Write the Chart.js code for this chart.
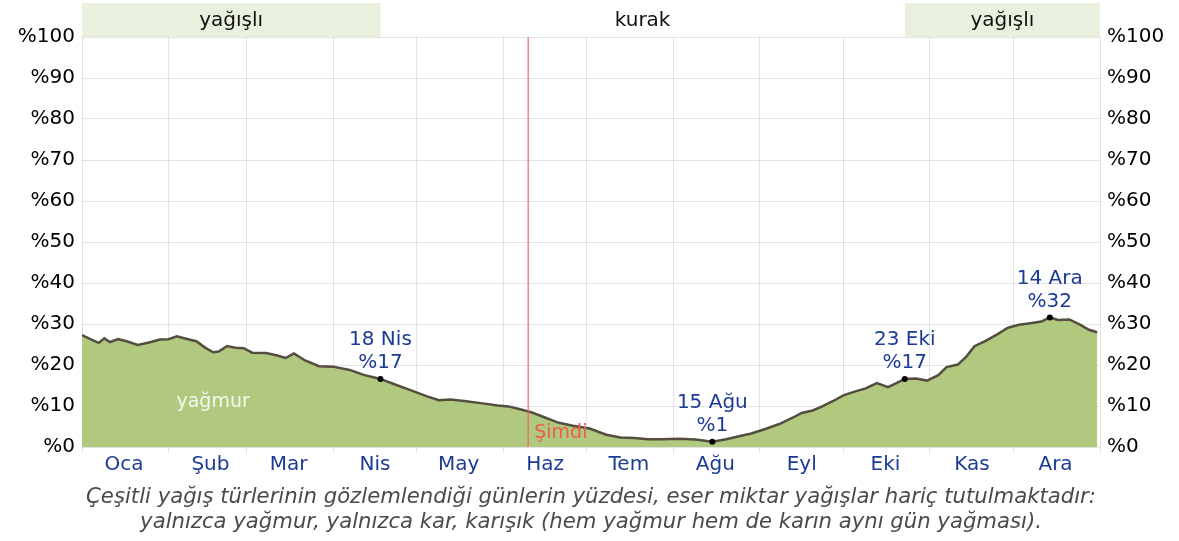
<!DOCTYPE html>
<html>
<head>
<meta charset="utf-8">
<script src="https://cdn.jsdelivr.net/npm/chart.js@4/dist/chart.umd.min.js"></script>
<style>
  html, body { margin: 0; padding: 0; background: #fff; }
  #wrap { width: 1179px; height: 541px; }
</style>
</head>
<body>
<div id="wrap"><canvas id="rainChart" width="1179" height="541"></canvas></div>
<script>
// month names and first day (day of year, 0-based) of each month
const monthNames = ['Oca', 'Şub', 'Mar', 'Nis', 'May', 'Haz', 'Tem', 'Ağu', 'Eyl', 'Eki', 'Kas', 'Ara'];
const monthStarts = [0, 31, 59, 90, 120, 151, 181, 212, 243, 273, 304, 334, 365];

// percentage of days with rain
const rainDays = [0, 3, 6, 8, 10, 13, 16, 20, 24, 28, 31, 34, 38, 41, 44, 47, 49, 52, 55, 58,
  61, 66, 70, 73, 76, 80, 85, 90, 96, 101, 107, 112, 118, 124, 128, 132, 137, 143, 149, 153,
  157, 161, 166, 171, 176, 182, 188, 193, 198, 203, 208, 214, 220, 226, 231, 236, 240, 245,
  250, 255, 258, 262, 265, 269, 273, 277, 281, 285, 289, 292, 295, 299, 303, 307, 310, 314,
  317, 320, 324, 328, 332, 336, 340, 344, 347, 350, 354, 358, 361, 364];
const rainValues = [27.3, 26.3, 25.4, 26.5, 25.6, 26.3, 25.8, 24.9, 25.5, 26.2, 26.3, 27.0, 26.3, 25.8, 24.3, 23.1, 23.3, 24.6, 24.2, 24.1,
  23.0, 22.9, 22.3, 21.7, 22.8, 21.1, 19.7, 19.6, 18.8, 17.6, 16.6, 15.3, 13.8, 12.3, 11.4, 11.6, 11.2, 10.7, 10.1, 9.9,
  9.2, 8.5, 7.2, 5.9, 5.2, 4.5, 3.0, 2.3, 2.2, 1.9, 1.9, 2.0, 1.8, 1.3, 1.9, 2.7, 3.3, 4.4,
  5.6, 7.2, 8.3, 8.9, 9.8, 11.1, 12.6, 13.5, 14.3, 15.6, 14.6, 15.6, 16.6, 16.7, 16.2, 17.5, 19.5, 20.1,
  22.0, 24.6, 25.9, 27.4, 29.1, 29.8, 30.2, 30.6, 31.6, 31.0, 31.1, 29.8, 28.6, 28.0];

// snow, barely above zero
const snowDays = [0, 10, 30, 55, 70, 300, 330, 345, 364];
const snowValues = [0.1, 0.3, 0.4, 0.3, 0.1, 0, 0.2, 0.3, 0.2];

// highlighted points
const markDays = [107, 226, 295, 347];
const markLabels = [['18 Nis', '%17'], ['15 Ağu', '%1'], ['23 Eki', '%17'], ['14 Ara', '%32']];

// wet / dry season bands on top
const seasonFrom = [0, 107, 295];
const seasonTo = [107, 295, 365];
const seasonLabels = ['yağışlı', 'kurak', 'yağışlı'];
const seasonWet = [true, false, true];

const nowDay = 160;

const yTicks = [0, 10, 20, 30, 40, 50, 60, 70, 80, 90, 100];

const captionLines = [
  'Çeşitli yağış türlerinin gözlemlendiği günlerin yüzdesi, eser miktar yağışlar hariç tutulmaktadır:',
  'yalnızca yağmur, yalnızca kar, karışık (hem yağmur hem de karın aynı gün yağması).'
];

const FONT = "'DejaVu Sans', sans-serif";
const BLUE = '#1c3b96';
const GRID = 'rgba(0,0,0,0.11)';

const extras = {
  id: 'extras',
  beforeDraw(chart) {
    const { ctx, scales: { x }, chartArea } = chart;
    ctx.save();
    ctx.font = '20px ' + FONT;
    ctx.textAlign = 'center';
    ctx.textBaseline = 'middle';
    for (let i = 0; i < seasonLabels.length; i++) {
      const x0 = x.getPixelForValue(seasonFrom[i]);
      const x1 = x.getPixelForValue(seasonTo[i]);
      if (seasonWet[i]) {
        ctx.fillStyle = '#e9f0de';
        ctx.fillRect(x0, 3, x1 - x0, chartArea.top - 3);
      }
      ctx.fillStyle = '#111';
      ctx.fillText(seasonLabels[i], (x0 + x1) / 2, 21);
    }
    ctx.restore();
  },
  afterDraw(chart) {
    const { ctx, scales: { x, y }, chartArea } = chart;
    ctx.save();

    // now line
    const nx = x.getPixelForValue(nowDay);
    ctx.strokeStyle = 'rgba(238,95,95,0.75)';
    ctx.lineWidth = 1.5;
    ctx.beginPath();
    ctx.moveTo(nx, chartArea.top);
    ctx.lineTo(nx, chartArea.bottom);
    ctx.stroke();
    ctx.fillStyle = '#e8604c';
    ctx.font = '19px ' + FONT;
    ctx.textAlign = 'left';
    ctx.textBaseline = 'alphabetic';
    ctx.fillText('Şimdi', nx + 6, 438);

    // series label inside the area
    ctx.fillStyle = 'rgba(255,255,255,0.85)';
    ctx.textAlign = 'center';
    ctx.textBaseline = 'middle';
    ctx.fillText('yağmur', x.getPixelForValue(47), y.getPixelForValue(11));

    // point annotations
    ctx.font = '20px ' + FONT;
    ctx.fillStyle = BLUE;
    markDays.forEach((d, i) => {
      const v = rainValues[rainDays.indexOf(d)];
      const px = x.getPixelForValue(d);
      const py = y.getPixelForValue(v);
      ctx.fillText(markLabels[i][0], px, py - 39);
      ctx.fillText(markLabels[i][1], px, py - 16);
      ctx.beginPath();
      ctx.arc(px, py, 3, 0, Math.PI * 2);
      ctx.fillStyle = '#000';
      ctx.fill();
      ctx.fillStyle = BLUE;
    });

    // caption
    ctx.fillStyle = '#4a4a4a';
    let size = 17;
    ctx.font = 'oblique ' + size + 'px ' + FONT;
    const w = ctx.measureText(captionLines[0]).width;
    size = size * 1010 / w;
    ctx.font = 'oblique ' + size.toFixed(2) + 'px ' + FONT;
    const cx = (chartArea.left + chartArea.right) / 2;
    ctx.fillText(captionLines[0], cx, 497);
    ctx.fillText(captionLines[1], cx, 522);
    ctx.restore();
  }
};

const yAxis = (pos, width, showGrid) => ({
  type: 'linear',
  position: pos,
  min: 0,
  max: 100,
  z: 1,
  afterBuildTicks: s => { s.ticks = yTicks.map(v => ({ value: v })); },
  afterFit: s => { s.width = width; },
  border: { display: false },
  grid: { display: showGrid, color: GRID, drawTicks: false },
  ticks: {
    padding: 7,
    color: '#000',
    font: { family: FONT, size: 20 },
    callback: v => '%' + v
  }
});

new Chart(document.getElementById('rainChart').getContext('2d'), {
  type: 'line',
  data: {
    datasets: [{
      label: 'yağmur',
      data: rainDays.map((d, i) => ({ x: d, y: rainValues[i] })),
      fill: 'origin',
      backgroundColor: '#b0c97f',
      borderColor: '#544d40',
      borderWidth: 2.5,
      pointRadius: 0,
      tension: 0
    }, {
      label: 'kar',
      data: snowDays.map((d, i) => ({ x: d, y: snowValues[i] })),
      fill: false,
      borderColor: 'rgba(160,220,230,0.8)',
      borderWidth: 1.5,
      pointRadius: 0,
      tension: 0.3
    }]
  },
  options: {
    responsive: false,
    animation: false,
    layout: { padding: { top: 37, bottom: 64, left: 0, right: 0 } },
    plugins: {
      legend: { display: false },
      tooltip: { enabled: false }
    },
    scales: {
      x: {
        type: 'linear',
        min: 0,
        max: 365,
        z: 1,
        afterBuildTicks: s => { s.ticks = monthStarts.map(v => ({ value: v })); },
        afterFit: s => { s.height = 30; },
        border: { display: false },
        grid: { color: GRID, tickLength: 6 },
        ticks: {
          autoSkip: false,
          maxRotation: 0,
          minRotation: 0,
          padding: 0,
          labelOffset: 42,
          color: BLUE,
          font: { family: FONT, size: 20 },
          callback: (v, i) => monthNames[i] || ''
        }
      },
      y: yAxis('left', 82, true),
      y2: yAxis('right', 79, false)
    }
  },
  plugins: [extras]
});
</script>
</body>
</html>
